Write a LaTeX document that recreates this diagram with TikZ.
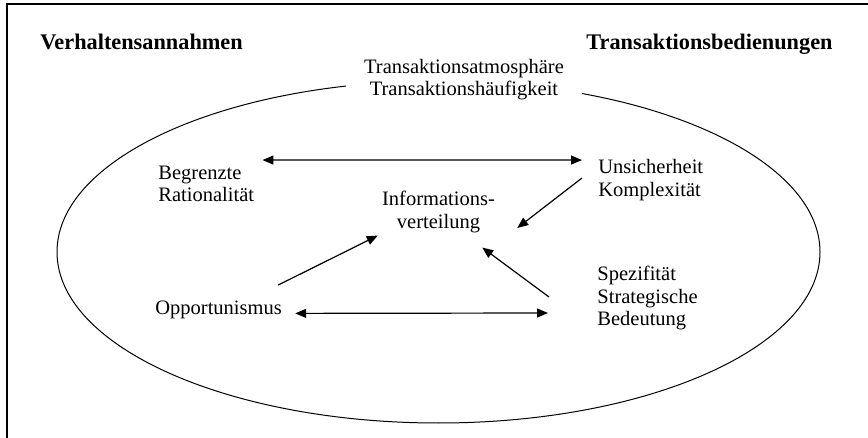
\documentclass[tikz,border=0pt]{standalone}
\usepackage{fontspec}
\setmainfont{Liberation Serif}
\usepackage{tikz}
\usetikzlibrary{positioning,shapes,arrows.meta}

\begin{document}
\begin{tikzpicture}[x=0.5pt,y=-0.5pt,>={Triangle[length=5.5pt,width=4.5pt]},
  head node/.style={font=\fontsize{11.15}{12}\selectfont\bfseries,inner sep=0pt,anchor=base west},
  item node/.style={font=\fontsize{10.25}{11.25}\selectfont,inner sep=0pt,align=left},
  link/.style={draw,line width=0.6pt}]
\useasboundingbox (0,0) rectangle (868,438);
\draw[line width=0.8pt] (7,438) -- (7,4) -- (868,4);
\draw[line width=0.5pt] (438.5,252) ellipse [x radius=381.5,y radius=171];

\node[head node] (verh) at (40,50) {Verhaltensannahmen};
\node[head node] (tbed) at (586,50) {Transaktionsbedienungen};
\node[item node,align=center,fill=white,inner xsep=9pt,inner ysep=2pt] (atmo) at (464,79.5) {Transaktionsatmosphäre\\Transaktionshäufigkeit};
\node[item node,anchor=west] (begr) at (158,184) {Begrenzte\\Rationalität};
\node[item node,anchor=west] (unsich) at (598,180) {Unsicherheit\\Komplexität};
\node[item node,align=center] (info) at (438.5,212) {Informations-\\verteilung};
\node[item node,anchor=base west] (opp) at (155,315) {Opportunismus};
\node[item node,anchor=west] (spez) at (597,298) {Spezifität\\Strategische\\Bedeutung};

\path[link]
([shift={(8,-5.5)}]begr.north east) edge[<->] ([shift={(-16,1)}]unsich.north west)
([shift={(-16,-2)}]unsich.west) edge[->] ([shift={(22,16)}]info.east)
([shift={(-4,-16)}]opp.north east) edge[->] ([shift={(-4,2.5)}]info.south west)
([shift={(-48,-1)}]spez.west) edge[->] ([shift={(-13,14.5)}]info.south east)
([shift={(13,3)}]opp.east) edge[<->] ([shift={(-49,15)}]spez.west)
;
\end{tikzpicture}
\end{document}
